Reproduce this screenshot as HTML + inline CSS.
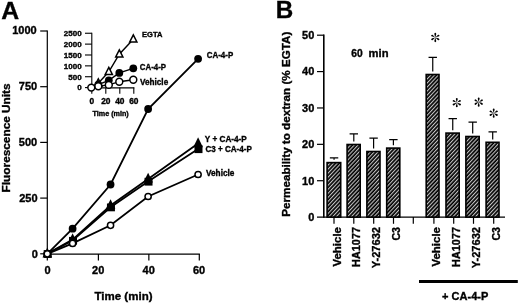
<!DOCTYPE html>
<html><head><meta charset="utf-8"><title>Figure</title>
<style>
html,body{margin:0;padding:0;background:#fff;}
body{width:520px;height:304px;overflow:hidden;}
svg{display:block;opacity:0.999;will-change:transform;}
text{font-family:"Liberation Sans",sans-serif;font-weight:bold;fill:#000;stroke:#000;stroke-width:0.35px;}
</style></head><body>
<svg width="520" height="304" viewBox="0 0 520 304">
<defs><pattern id="h" width="2.75" height="2.75" patternUnits="userSpaceOnUse" patternTransform="rotate(-47)"><rect width="2.75" height="2.75" fill="#000"/><rect y="0" width="2.75" height="1.1" fill="#c4c4c4"/></pattern></defs>
<rect width="520" height="304" fill="#fff"/>
<text x="1.2" y="19" font-size="24.8">A</text>
<g stroke="#000" stroke-width="1.2" fill="none" stroke-linecap="butt">
<path d="M47.3 30.4 V254.7"/>
<path d="M47.3 254.1H199.9"/>
<path d="M40.2 253.8H47.3"/>
<path d="M40.2 198.1H47.3"/>
<path d="M40.2 142.4H47.3"/>
<path d="M40.2 86.7H47.3"/>
<path d="M40.2 31H47.3"/>
<path d="M47.3 254.1V260.5"/>
<path d="M98.4 254.1V260.5"/>
<path d="M148.85 254.1V260.5"/>
<path d="M199.3 254.1V260.5"/>
</g>
<text x="37.9" y="258.1" font-size="11" text-anchor="end">0</text>
<text x="37.5" y="202.1" font-size="11" text-anchor="end">250</text>
<text x="37.2" y="146.1" font-size="11" text-anchor="end">500</text>
<text x="37.2" y="90.3" font-size="11" text-anchor="end">750</text>
<text x="36.7" y="34.2" font-size="11" text-anchor="end">1000</text>
<text x="47.6" y="274" font-size="11" text-anchor="middle">0</text>
<text x="98.2" y="274" font-size="11" text-anchor="middle">20</text>
<text x="148.65" y="274" font-size="11" text-anchor="middle">40</text>
<text x="199.1" y="274" font-size="11" text-anchor="middle">60</text>
<text x="123.5" y="299.8" font-size="11" text-anchor="middle" textLength="58" lengthAdjust="spacingAndGlyphs">Time (min)</text>
<text transform="translate(9.6 137.9) rotate(-90)" font-size="11" text-anchor="middle" textLength="109" lengthAdjust="spacingAndGlyphs">Fluorescence Units</text>
<g stroke="#000" stroke-width="1.8" fill="none">
<polyline points="47.3,253.8 72.6,228.7 110.55,184.5 148.12,109 198.09,58.8"/>
<polyline points="47.3,253.8 72.6,239.6 110.55,205.5 148.12,179 198.09,143.6"/>
<polyline points="47.3,253.8 72.6,240.6 110.55,207.2 148.12,181.5 198.09,149"/>
<polyline points="47.3,253.8 72.6,243.4 110.55,225.3 148.12,196.5 198.09,174.5"/>
</g>
<circle cx="47.3" cy="253.8" r="3.9" fill="#000"/>
<circle cx="72.6" cy="228.7" r="3.9" fill="#000"/>
<circle cx="110.55" cy="184.5" r="3.9" fill="#000"/>
<circle cx="148.12" cy="109" r="3.9" fill="#000"/>
<circle cx="198.09" cy="58.8" r="3.9" fill="#000"/>
<rect x="43.7" y="250.1" width="8" height="7.8" fill="#000"/>
<rect x="69" y="236.9" width="8" height="7.8" fill="#000"/>
<rect x="106.95" y="203.5" width="8" height="7.8" fill="#000"/>
<rect x="144.52" y="177.8" width="8" height="7.8" fill="#000"/>
<rect x="194.49" y="145.3" width="8" height="7.8" fill="#000"/>
<path d="M47.3 247.5L52.1 257.4H42.5Z" fill="#000"/>
<path d="M72.6 233.3L77.4 243.2H67.8Z" fill="#000"/>
<path d="M110.55 199.2L115.35 209.1H105.75Z" fill="#000"/>
<path d="M148.12 172.7L152.92 182.6H143.32Z" fill="#000"/>
<path d="M198.09 137.3L202.89 147.2H193.29Z" fill="#000"/>
<circle cx="198.09" cy="174.5" r="3.1" fill="#fff" stroke="#000" stroke-width="1.5"/>
<circle cx="148.12" cy="196.5" r="3.1" fill="#fff" stroke="#000" stroke-width="1.5"/>
<circle cx="110.55" cy="225.3" r="3.1" fill="#fff" stroke="#000" stroke-width="1.5"/>
<circle cx="72.6" cy="243.4" r="3.1" fill="#fff" stroke="#000" stroke-width="1.5"/>
<circle cx="47.3" cy="253.8" r="3.1" fill="#fff" stroke="#000" stroke-width="1.5"/>
<text x="206.8" y="58.2" font-size="8.5" textLength="26.4" lengthAdjust="spacingAndGlyphs">CA-4-P</text>
<text x="204.8" y="142.4" font-size="8.5" textLength="42" lengthAdjust="spacingAndGlyphs">Y + CA-4-P</text>
<text x="205.4" y="151.8" font-size="8.5" textLength="46.4" lengthAdjust="spacingAndGlyphs">C3 + CA-4-P</text>
<text x="206" y="175.8" font-size="8.5" textLength="28.4" lengthAdjust="spacingAndGlyphs">Vehicle</text>
<g stroke="#000" stroke-width="1.1" fill="none">
<path d="M91.8 32.75V87.9"/>
<path d="M91.8 87.9H134.3" stroke-width="1.4"/>
<path d="M85 87.6H91.8"/>
<path d="M85 76.73H91.8"/>
<path d="M85 65.86H91.8"/>
<path d="M85 54.99H91.8"/>
<path d="M85 44.12H91.8"/>
<path d="M85 33.25H91.8"/>
<path d="M91.8 87.6V93.8"/>
<path d="M105.8 87.6V93.8"/>
<path d="M119.8 87.6V93.8"/>
<path d="M133.8 87.6V93.8"/>
</g>
<text x="81.6" y="90.4" font-size="8" text-anchor="end">0</text>
<text x="81.6" y="79.53" font-size="8" text-anchor="end">500</text>
<text x="81.6" y="68.66" font-size="8" text-anchor="end">1000</text>
<text x="81.6" y="57.79" font-size="8" text-anchor="end">1500</text>
<text x="81.6" y="46.92" font-size="8" text-anchor="end">2000</text>
<text x="81.6" y="36.05" font-size="8" text-anchor="end">2500</text>
<text x="91.8" y="104.2" font-size="8.4" text-anchor="middle">0</text>
<text x="105.8" y="104.2" font-size="8.4" text-anchor="middle">20</text>
<text x="119.8" y="104.2" font-size="8.4" text-anchor="middle">40</text>
<text x="133.8" y="104.2" font-size="8.4" text-anchor="middle">60</text>
<text x="110.6" y="116.2" font-size="7.2" text-anchor="middle" fill="#222">Time (min)</text>
<g stroke="#000" stroke-width="1.4" fill="none">
<polyline points="91.3,87.6 98.3,83.3 108.8,71.8 119.3,54.2 133.3,39.3"/>
<polyline points="91.3,87.6 98.3,84.6 108.8,80.3 119.3,72.9 133.3,68.3"/>
<polyline points="91.3,87.6 98.3,86.3 108.8,84.9 119.3,81.7 133.3,79.8"/>
</g>
<path d="M98.3 78.9L101.9 86H94.7Z" fill="#fff" stroke="#000" stroke-width="1.5"/>
<path d="M108.8 67.4L112.4 74.5H105.2Z" fill="#fff" stroke="#000" stroke-width="1.5"/>
<path d="M119.3 49.8L122.9 56.9H115.7Z" fill="#fff" stroke="#000" stroke-width="1.5"/>
<path d="M133.3 34.9L136.9 42H129.7Z" fill="#fff" stroke="#000" stroke-width="1.5"/>
<circle cx="98.3" cy="84.6" r="3.9" fill="#000"/>
<circle cx="108.8" cy="80.3" r="3.9" fill="#000"/>
<circle cx="119.3" cy="72.9" r="3.9" fill="#000"/>
<circle cx="133.3" cy="68.3" r="3.9" fill="#000"/>
<circle cx="133.3" cy="79.8" r="3.45" fill="#fff" stroke="#000" stroke-width="1.5"/>
<circle cx="119.3" cy="81.7" r="3.45" fill="#fff" stroke="#000" stroke-width="1.5"/>
<circle cx="108.8" cy="84.9" r="3.45" fill="#fff" stroke="#000" stroke-width="1.5"/>
<circle cx="98.3" cy="86.3" r="3.45" fill="#fff" stroke="#000" stroke-width="1.5"/>
<circle cx="91.3" cy="87.6" r="3.45" fill="#fff" stroke="#000" stroke-width="1.5"/>
<text x="142" y="37.4" font-size="8" textLength="20.4" lengthAdjust="spacingAndGlyphs">EGTA</text>
<text x="139.8" y="70.0" font-size="8.6" textLength="26.2" lengthAdjust="spacingAndGlyphs">CA-4-P</text>
<text x="140" y="85.2" font-size="8.8" textLength="28.2" lengthAdjust="spacingAndGlyphs">Vehicle</text>
<text x="275.7" y="18" font-size="24.2">B</text>
<g stroke="#000" stroke-width="1.2" fill="none">
<path d="M323.8 34.6V217.7" stroke-width="1.6"/>
<path d="M317 217.1H505" stroke-width="1.3"/>
<path d="M317 180.72H323.8"/>
<path d="M317 144.34H323.8"/>
<path d="M317 107.96H323.8"/>
<path d="M317 71.58H323.8"/>
<path d="M317 35.2H323.8"/>
<path d="M334 217.1V223.8"/>
<path d="M353.8 217.1V223.8"/>
<path d="M373.7 217.1V223.8"/>
<path d="M393.5 217.1V223.8"/>
<path d="M413.3 217.1V223.8"/>
<path d="M433.9 217.1V223.8"/>
<path d="M453.7 217.1V223.8"/>
<path d="M473.5 217.1V223.8"/>
<path d="M493.7 217.1V223.8"/>
</g>
<text x="314.3" y="220.9" font-size="11" text-anchor="end">0</text>
<text x="314.3" y="184.52" font-size="11" text-anchor="end">10</text>
<text x="314.3" y="148.14" font-size="11" text-anchor="end">20</text>
<text x="314.3" y="111.76" font-size="11" text-anchor="end">30</text>
<text x="314.3" y="75.38" font-size="11" text-anchor="end">40</text>
<text x="314.3" y="39" font-size="11" text-anchor="end">50</text>
<text transform="translate(289.8 124.2) rotate(-90)" font-size="11.3" text-anchor="middle" textLength="185" lengthAdjust="spacingAndGlyphs">Permeability to dextran (% EGTA)</text>
<text x="351.2" y="56.8" font-size="11" textLength="11.4" lengthAdjust="spacingAndGlyphs">60</text><text x="368.6" y="56.8" font-size="11.2">min</text>
<rect x="327.1" y="162.6" width="13.6" height="54.5" fill="url(#h)" stroke="#000" stroke-width="1.6"/>
<path d="M329.85 157.9H338.25M334.05 157.9V159.7" stroke="#000" stroke-width="1.2" fill="none"/>
<rect x="347.1" y="144.5" width="13.1" height="72.6" fill="url(#h)" stroke="#000" stroke-width="1.6"/>
<path d="M349.6 133.8H358M353.8 133.8V141.6" stroke="#000" stroke-width="1.2" fill="none"/>
<rect x="366.9" y="151.5" width="13.1" height="65.6" fill="url(#h)" stroke="#000" stroke-width="1.6"/>
<path d="M369.4 138.1H377.8M373.6 138.1V148.6" stroke="#000" stroke-width="1.2" fill="none"/>
<rect x="386.7" y="148.1" width="13.1" height="69" fill="url(#h)" stroke="#000" stroke-width="1.6"/>
<path d="M389.2 139.7H397.6M393.4 139.7V145.2" stroke="#000" stroke-width="1.2" fill="none"/>
<rect x="426.2" y="74.5" width="12.8" height="142.6" fill="url(#h)" stroke="#000" stroke-width="1.6"/>
<path d="M428.55 57.4H436.95M432.75 57.4V71.6" stroke="#000" stroke-width="1.2" fill="none"/>
<rect x="446" y="133.1" width="13.2" height="84" fill="url(#h)" stroke="#000" stroke-width="1.6"/>
<path d="M448.55 118.7H456.95M452.75 118.7V130.2" stroke="#000" stroke-width="1.2" fill="none"/>
<rect x="465.9" y="136.5" width="13.3" height="80.6" fill="url(#h)" stroke="#000" stroke-width="1.6"/>
<path d="M468.5 122.1H476.9M472.7 122.1V133.6" stroke="#000" stroke-width="1.2" fill="none"/>
<rect x="486.1" y="142.3" width="12.9" height="74.8" fill="url(#h)" stroke="#000" stroke-width="1.6"/>
<path d="M488.5 131.8H496.9M492.7 131.8V139.4" stroke="#000" stroke-width="1.2" fill="none"/>
<text transform="translate(340.5 227) rotate(-90)" font-size="11" text-anchor="end" textLength="39.6" lengthAdjust="spacingAndGlyphs">Vehicle</text>
<text transform="translate(360.3 227) rotate(-90)" font-size="11" text-anchor="end" textLength="39.9" lengthAdjust="spacingAndGlyphs">HA1077</text>
<text transform="translate(380.2 227) rotate(-90)" font-size="11" text-anchor="end" textLength="41.3" lengthAdjust="spacingAndGlyphs">Y-27632</text>
<text transform="translate(400 227) rotate(-90)" font-size="11" text-anchor="end" textLength="13.6" lengthAdjust="spacingAndGlyphs">C3</text>
<text transform="translate(440.4 227) rotate(-90)" font-size="11" text-anchor="end" textLength="39.6" lengthAdjust="spacingAndGlyphs">Vehicle</text>
<text transform="translate(460.2 227) rotate(-90)" font-size="11" text-anchor="end" textLength="39.9" lengthAdjust="spacingAndGlyphs">HA1077</text>
<text transform="translate(480 227) rotate(-90)" font-size="11" text-anchor="end" textLength="41.3" lengthAdjust="spacingAndGlyphs">Y-27632</text>
<text transform="translate(500.2 227) rotate(-90)" font-size="11" text-anchor="end" textLength="13.6" lengthAdjust="spacingAndGlyphs">C3</text>
<g transform="translate(435.3 37.5)" fill="#000"><path transform="rotate(0)" d="M0 0C-0.25 -1.4 -1.05 -3 -0.92 -3.85A0.93 0.93 0 0 1 0.92 -3.85C1.05 -3 0.25 -1.4 0 0Z"/><path transform="rotate(60)" d="M0 0C-0.25 -1.4 -1.05 -3 -0.92 -3.85A0.93 0.93 0 0 1 0.92 -3.85C1.05 -3 0.25 -1.4 0 0Z"/><path transform="rotate(120)" d="M0 0C-0.25 -1.4 -1.05 -3 -0.92 -3.85A0.93 0.93 0 0 1 0.92 -3.85C1.05 -3 0.25 -1.4 0 0Z"/><path transform="rotate(180)" d="M0 0C-0.25 -1.4 -1.05 -3 -0.92 -3.85A0.93 0.93 0 0 1 0.92 -3.85C1.05 -3 0.25 -1.4 0 0Z"/><path transform="rotate(240)" d="M0 0C-0.25 -1.4 -1.05 -3 -0.92 -3.85A0.93 0.93 0 0 1 0.92 -3.85C1.05 -3 0.25 -1.4 0 0Z"/><path transform="rotate(300)" d="M0 0C-0.25 -1.4 -1.05 -3 -0.92 -3.85A0.93 0.93 0 0 1 0.92 -3.85C1.05 -3 0.25 -1.4 0 0Z"/></g>
<g transform="translate(456.8 102.7)" fill="#000"><path transform="rotate(0)" d="M0 0C-0.25 -1.4 -1.05 -3 -0.92 -3.85A0.93 0.93 0 0 1 0.92 -3.85C1.05 -3 0.25 -1.4 0 0Z"/><path transform="rotate(60)" d="M0 0C-0.25 -1.4 -1.05 -3 -0.92 -3.85A0.93 0.93 0 0 1 0.92 -3.85C1.05 -3 0.25 -1.4 0 0Z"/><path transform="rotate(120)" d="M0 0C-0.25 -1.4 -1.05 -3 -0.92 -3.85A0.93 0.93 0 0 1 0.92 -3.85C1.05 -3 0.25 -1.4 0 0Z"/><path transform="rotate(180)" d="M0 0C-0.25 -1.4 -1.05 -3 -0.92 -3.85A0.93 0.93 0 0 1 0.92 -3.85C1.05 -3 0.25 -1.4 0 0Z"/><path transform="rotate(240)" d="M0 0C-0.25 -1.4 -1.05 -3 -0.92 -3.85A0.93 0.93 0 0 1 0.92 -3.85C1.05 -3 0.25 -1.4 0 0Z"/><path transform="rotate(300)" d="M0 0C-0.25 -1.4 -1.05 -3 -0.92 -3.85A0.93 0.93 0 0 1 0.92 -3.85C1.05 -3 0.25 -1.4 0 0Z"/></g>
<g transform="translate(478.7 102.1)" fill="#000"><path transform="rotate(0)" d="M0 0C-0.25 -1.4 -1.05 -3 -0.92 -3.85A0.93 0.93 0 0 1 0.92 -3.85C1.05 -3 0.25 -1.4 0 0Z"/><path transform="rotate(60)" d="M0 0C-0.25 -1.4 -1.05 -3 -0.92 -3.85A0.93 0.93 0 0 1 0.92 -3.85C1.05 -3 0.25 -1.4 0 0Z"/><path transform="rotate(120)" d="M0 0C-0.25 -1.4 -1.05 -3 -0.92 -3.85A0.93 0.93 0 0 1 0.92 -3.85C1.05 -3 0.25 -1.4 0 0Z"/><path transform="rotate(180)" d="M0 0C-0.25 -1.4 -1.05 -3 -0.92 -3.85A0.93 0.93 0 0 1 0.92 -3.85C1.05 -3 0.25 -1.4 0 0Z"/><path transform="rotate(240)" d="M0 0C-0.25 -1.4 -1.05 -3 -0.92 -3.85A0.93 0.93 0 0 1 0.92 -3.85C1.05 -3 0.25 -1.4 0 0Z"/><path transform="rotate(300)" d="M0 0C-0.25 -1.4 -1.05 -3 -0.92 -3.85A0.93 0.93 0 0 1 0.92 -3.85C1.05 -3 0.25 -1.4 0 0Z"/></g>
<g transform="translate(493.7 113.2)" fill="#000"><path transform="rotate(0)" d="M0 0C-0.25 -1.4 -1.05 -3 -0.92 -3.85A0.93 0.93 0 0 1 0.92 -3.85C1.05 -3 0.25 -1.4 0 0Z"/><path transform="rotate(60)" d="M0 0C-0.25 -1.4 -1.05 -3 -0.92 -3.85A0.93 0.93 0 0 1 0.92 -3.85C1.05 -3 0.25 -1.4 0 0Z"/><path transform="rotate(120)" d="M0 0C-0.25 -1.4 -1.05 -3 -0.92 -3.85A0.93 0.93 0 0 1 0.92 -3.85C1.05 -3 0.25 -1.4 0 0Z"/><path transform="rotate(180)" d="M0 0C-0.25 -1.4 -1.05 -3 -0.92 -3.85A0.93 0.93 0 0 1 0.92 -3.85C1.05 -3 0.25 -1.4 0 0Z"/><path transform="rotate(240)" d="M0 0C-0.25 -1.4 -1.05 -3 -0.92 -3.85A0.93 0.93 0 0 1 0.92 -3.85C1.05 -3 0.25 -1.4 0 0Z"/><path transform="rotate(300)" d="M0 0C-0.25 -1.4 -1.05 -3 -0.92 -3.85A0.93 0.93 0 0 1 0.92 -3.85C1.05 -3 0.25 -1.4 0 0Z"/></g>
<rect x="419" y="280" width="98.8" height="3" fill="#000"/>
<text x="465.2" y="300.1" font-size="11" text-anchor="middle">+ CA-4-P</text>
</svg>
</body></html>
